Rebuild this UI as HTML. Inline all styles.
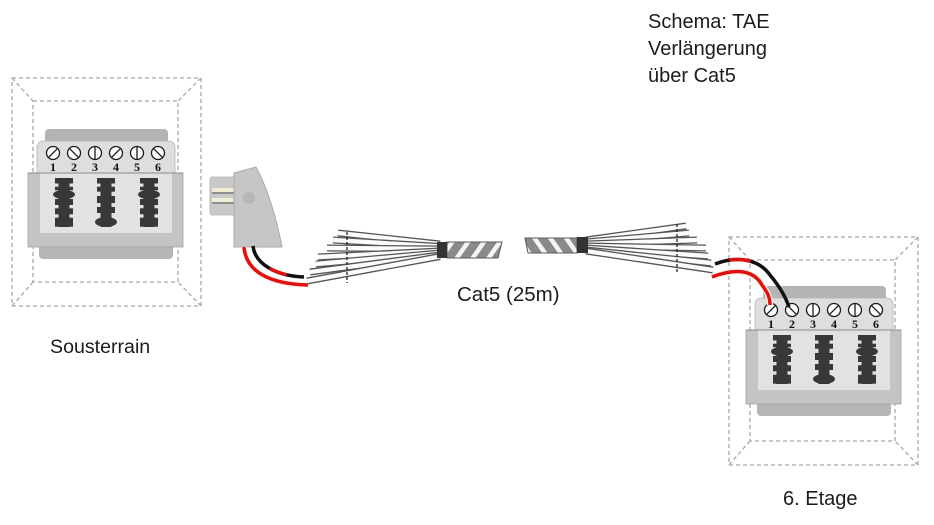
<!DOCTYPE html>
<html><head><meta charset="utf-8"><style>
html,body{margin:0;padding:0;background:#fff;}
svg{display:block;}
text{font-family:"Liberation Sans",sans-serif;fill:#1c1c1c;}
</style></head><body>
<svg width="934" height="525" viewBox="0 0 934 525" xmlns="http://www.w3.org/2000/svg">
<defs>
<pattern id="sL" width="13" height="13" patternUnits="userSpaceOnUse" patternTransform="rotate(35)"><rect width="13" height="13" fill="#8a8a8a"/><rect x="0" width="4.5" height="13" fill="#f4f4f4"/></pattern>
<pattern id="sR" width="13" height="13" patternUnits="userSpaceOnUse" patternTransform="rotate(-35)"><rect width="13" height="13" fill="#8a8a8a"/><rect x="0" width="4.5" height="13" fill="#f4f4f4"/></pattern>
<g id="box" fill="none" stroke="#a8a8a8" stroke-width="1.3" stroke-dasharray="4 3">
<rect x="12" y="78" width="189" height="228"/>
<rect x="33" y="101" width="145" height="181"/>
<line x1="12" y1="78" x2="33" y2="101"/>
<line x1="201" y1="78" x2="178" y2="101"/>
<line x1="12" y1="306" x2="33" y2="282"/>
<line x1="201" y1="306" x2="178" y2="282"/>
</g>
<g id="sock">
<rect x="45" y="129" width="123" height="20" rx="4" fill="#b4b4b4"/>
<rect x="39" y="238" width="134" height="21" rx="4" fill="#b6b6b6"/>
<rect x="37" y="141" width="138" height="36" rx="6" fill="#dedede" stroke="#b4b4b4" stroke-width="0.8"/>
<rect x="28" y="173" width="155" height="74" fill="#c4c4c4" stroke="#a4a4a4" stroke-width="0.8"/>
<rect x="40" y="173" width="132" height="60" fill="#e2e2e2"/>
<line x1="28" y1="173" x2="183" y2="173" stroke="#8a8a8a" stroke-width="1"/>
<g fill="#383838">
<rect x="58.5" y="178" width="11" height="49"/>
<rect x="55" y="178" width="18" height="5.5"/>
<rect x="55" y="186.7" width="18" height="3.5"/>
<ellipse cx="64" cy="194.5" rx="11" ry="4.6"/>
<rect x="55" y="199" width="18" height="6"/>
<rect x="55" y="208.3" width="18" height="6"/>
<rect x="55" y="217.7" width="18" height="9"/>
<rect x="100.5" y="178" width="11" height="49"/>
<rect x="97" y="178" width="18" height="5.5"/>
<rect x="97" y="186.7" width="18" height="5"/>
<rect x="97" y="196" width="18" height="7"/>
<rect x="97" y="207" width="18" height="6"/>
<ellipse cx="106" cy="222" rx="11" ry="5"/>
<rect x="143.5" y="178" width="11" height="49"/>
<rect x="140" y="178" width="18" height="5.5"/>
<rect x="140" y="186.7" width="18" height="3.5"/>
<ellipse cx="149" cy="194.5" rx="11" ry="4.6"/>
<rect x="140" y="199" width="18" height="6"/>
<rect x="140" y="208.3" width="18" height="6"/>
<rect x="140" y="217.7" width="18" height="9"/>
</g>
<g fill="#fff" stroke="#1a1a1a" stroke-width="1.3">
<circle cx="53" cy="153" r="6.5"/><circle cx="74" cy="153" r="6.5"/><circle cx="95" cy="153" r="6.5"/>
<circle cx="116" cy="153" r="6.5"/><circle cx="137" cy="153" r="6.5"/><circle cx="158" cy="153" r="6.5"/>
<line x1="48.4" y1="157.6" x2="57.6" y2="148.4"/>
<line x1="69.4" y1="148.4" x2="78.6" y2="157.6"/>
<line x1="95" y1="146.5" x2="95" y2="159.5"/>
<line x1="111.4" y1="157.6" x2="120.6" y2="148.4"/>
<line x1="137" y1="146.5" x2="137" y2="159.5"/>
<line x1="153.4" y1="148.4" x2="162.6" y2="157.6"/>
</g>
<g text-anchor="middle">
<text x="53" y="171" style="font-family:'Liberation Serif',serif;font-weight:bold;font-size:12px;fill:#111">1</text>
<text x="74" y="171" style="font-family:'Liberation Serif',serif;font-weight:bold;font-size:12px;fill:#111">2</text>
<text x="95" y="171" style="font-family:'Liberation Serif',serif;font-weight:bold;font-size:12px;fill:#111">3</text>
<text x="116" y="171" style="font-family:'Liberation Serif',serif;font-weight:bold;font-size:12px;fill:#111">4</text>
<text x="137" y="171" style="font-family:'Liberation Serif',serif;font-weight:bold;font-size:12px;fill:#111">5</text>
<text x="158" y="171" style="font-family:'Liberation Serif',serif;font-weight:bold;font-size:12px;fill:#111">6</text>
</g>
</g>
</defs>

<use href="#box"/>
<use href="#sock"/>
<use href="#box" transform="translate(717,159)"/>
<use href="#sock" transform="translate(718,157)"/>

<!-- TAE plug -->
<rect x="210" y="177" width="26" height="38" rx="2" fill="#c9c9c9" stroke="#b0b0b0" stroke-width="0.8"/>
<rect x="212" y="188" width="22" height="4" fill="#f1ecd6"/>
<rect x="212" y="198" width="22" height="4" fill="#f1ecd6"/>
<line x1="212" y1="193" x2="234" y2="193" stroke="#7a7a7a" stroke-width="1.5"/>
<line x1="212" y1="203" x2="234" y2="203" stroke="#7a7a7a" stroke-width="1.5"/>
<path d="M234,173 L256,167 C266,185 276,215 282,247 L234,247 Z" fill="#c6c6c6" stroke="#aaaaaa" stroke-width="1"/>
<circle cx="249" cy="198" r="6" fill="#b6b6b6"/>

<!-- left fan -->
<g stroke-linecap="butt">
<line x1="338" y1="233" x2="440" y2="244" stroke="#555" stroke-width="7"/><line x1="338" y1="233" x2="440" y2="244" stroke="#fbfbfb" stroke-width="4.4"/>
<line x1="333" y1="240" x2="440" y2="246.5" stroke="#555" stroke-width="7"/><line x1="333" y1="240" x2="440" y2="246.5" stroke="#fbfbfb" stroke-width="4.4"/>
<line x1="327" y1="248" x2="440" y2="249" stroke="#555" stroke-width="7"/><line x1="327" y1="248" x2="440" y2="249" stroke="#fbfbfb" stroke-width="4.4"/>
<line x1="318" y1="257" x2="440" y2="251" stroke="#555" stroke-width="7"/><line x1="318" y1="257" x2="440" y2="251" stroke="#fbfbfb" stroke-width="4.4"/>
<line x1="316" y1="264" x2="440" y2="253" stroke="#555" stroke-width="7"/><line x1="316" y1="264" x2="440" y2="253" stroke="#fbfbfb" stroke-width="4.4"/>
<line x1="310" y1="272" x2="440" y2="255" stroke="#555" stroke-width="7"/><line x1="310" y1="272" x2="440" y2="255" stroke="#fbfbfb" stroke-width="4.4"/>
<line x1="307" y1="281" x2="440" y2="256.5" stroke="#555" stroke-width="7"/><line x1="307" y1="281" x2="440" y2="256.5" stroke="#fbfbfb" stroke-width="4.4"/>
</g>
<line x1="347" y1="232" x2="347" y2="283" stroke="#222" stroke-width="1.3" stroke-dasharray="3 2"/>
<polygon points="447,242 502,242 498,258 447,258" fill="url(#sL)" stroke="#5a5a5a" stroke-width="1"/>
<rect x="437" y="242" width="10" height="16" fill="#333"/>

<!-- right fan -->
<g stroke-linecap="butt">
<line x1="586" y1="240" x2="686" y2="226" stroke="#555" stroke-width="7"/><line x1="586" y1="240" x2="686" y2="226" stroke="#fbfbfb" stroke-width="4.4"/>
<line x1="586" y1="242" x2="689" y2="233" stroke="#555" stroke-width="7"/><line x1="586" y1="242" x2="689" y2="233" stroke="#fbfbfb" stroke-width="4.4"/>
<line x1="586" y1="244" x2="697" y2="240" stroke="#555" stroke-width="7"/><line x1="586" y1="244" x2="697" y2="240" stroke="#fbfbfb" stroke-width="4.4"/>
<line x1="586" y1="246" x2="706" y2="248" stroke="#555" stroke-width="7"/><line x1="586" y1="246" x2="706" y2="248" stroke="#fbfbfb" stroke-width="4.4"/>
<line x1="586" y1="248" x2="708" y2="256" stroke="#555" stroke-width="7"/><line x1="586" y1="248" x2="708" y2="256" stroke="#fbfbfb" stroke-width="4.4"/>
<line x1="586" y1="250" x2="711" y2="263" stroke="#555" stroke-width="7"/><line x1="586" y1="250" x2="711" y2="263" stroke="#fbfbfb" stroke-width="4.4"/>
<line x1="586" y1="251" x2="713" y2="270" stroke="#555" stroke-width="7"/><line x1="586" y1="251" x2="713" y2="270" stroke="#fbfbfb" stroke-width="4.4"/>
</g>
<line x1="677" y1="224" x2="677" y2="272" stroke="#222" stroke-width="1.3" stroke-dasharray="3 2"/>
<polygon points="525,238 577,238 577,253 528,253" fill="url(#sR)" stroke="#5a5a5a" stroke-width="1"/>
<rect x="577" y="237" width="11" height="16" fill="#333"/>

<!-- plug wires -->
<path d="M244,247 C246,272 270,284 308,285" fill="none" stroke="#fff3e8" stroke-width="6"/>
<path d="M244,247 C246,272 270,284 308,285" fill="none" stroke="#e01010" stroke-width="3.5"/>
<path d="M253,246 C255,264 276,276 304,277" fill="none" stroke="#111" stroke-width="3.5"/>
<path d="M253,246 C255,264 276,276 304,277" fill="none" stroke="#e01010" stroke-width="3.5" pathLength="100" stroke-dasharray="0 45 28 100"/>

<!-- right wires -->
<path d="M712,277 C730,270 752,267 762,285 C768,293 770,298 770,305" fill="none" stroke="#fff3e8" stroke-width="6"/>
<path d="M712,277 C730,270 752,267 762,285 C768,293 770,298 770,305" fill="none" stroke="#e01010" stroke-width="3.5"/>
<path d="M715,264 C735,256 758,258 770,275 C780,287 786,298 789,307" fill="none" stroke="#111" stroke-width="3.5"/>
<path d="M715,264 C735,256 758,258 770,275 C780,287 786,298 789,307" fill="none" stroke="#e01010" stroke-width="3.5" pathLength="100" stroke-dasharray="0 15 22 100"/>

<!-- labels -->
<text x="648" y="28" font-size="20">Schema: TAE</text>
<text x="648" y="55" font-size="20">Verlängerung</text>
<text x="648" y="82" font-size="20">über Cat5</text>
<text x="457" y="301" font-size="20.5">Cat5 (25m)</text>
<text x="50" y="353" font-size="19.6">Sousterrain</text>
<text x="783" y="505" font-size="20">6. Etage</text>
</svg>
</body></html>
